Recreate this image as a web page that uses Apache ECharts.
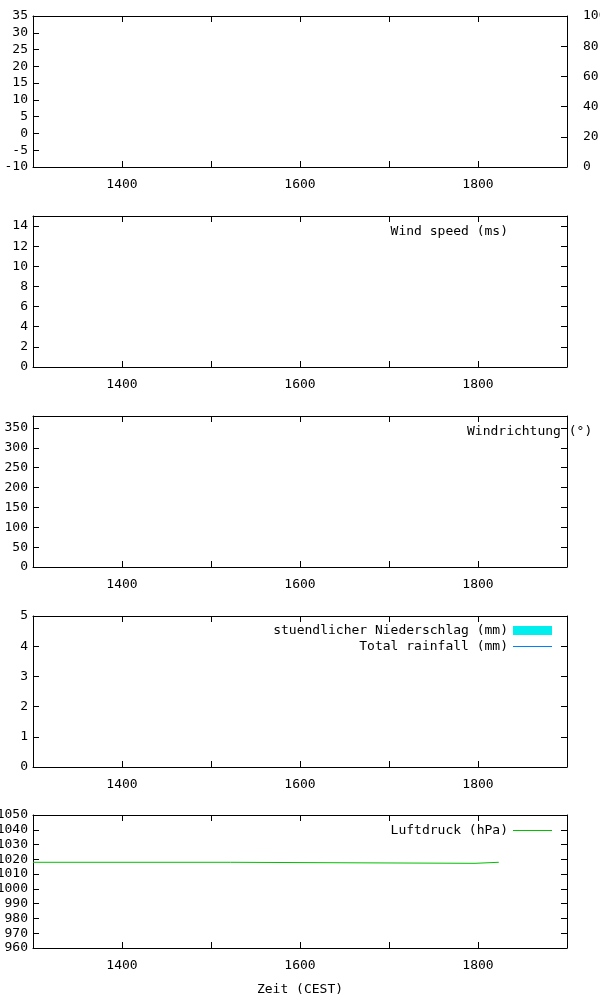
<!DOCTYPE html>
<html><head><meta charset="utf-8">
<script src="https://cdn.jsdelivr.net/npm/echarts@6/dist/echarts.min.js"></script>
<style>html,body{margin:0;padding:0;background:#fff}#c{width:600px;height:1000px}</style>
</head><body><div id="c"></div>
<script>
// ---- data ----
const xTickLabels = ['1400', '1600', '1800'];
const timeRange = [13, 19];            // hours (13:00 .. 19:00)
const pressureTimes = ['13:00', '15:13', '15:14', '17:58', '17:59', '18:14'];
const pressureValues = [1018.0, 1018.0, 1017.3, 1017.3, 1018.0, 1018.0];
const windSpeedValues = [];
const windDirValues = [];
const rainHourlyValues = [];
const rainTotalValues = [];
const yRanges = [[-10, 35, 5], [0, 15, 2], [0, 380, 50], [0, 5, 1], [960, 1050, 10]];
const y2Range = [0, 100, 20];

// ---- layout ----
const tops = [16, 216, 416, 616, 815];
const heights = [151, 151, 151, 151, 133];
const FONT = 'DejaVu Sans Mono';
const FS = 13;

function toHours(s) { const p = s.split(':'); return (+p[0]) + (+p[1]) / 60; }

const grids = tops.map((t, i) => ({ left: 33, width: 534, top: t, height: heights[i], containLabel: false, outerBoundsMode: 'none' }));
const axisLine = { show: true, onZero: false, lineStyle: { color: '#000', width: 1 } };
const axisTick = { show: true, inside: true, length: 6, lineStyle: { color: '#000', width: 1 } };
const labelStyle = { color: '#000', fontFamily: FONT, fontSize: FS };

const xAxes = [];
const yAxes = [];
for (let i = 0; i < 5; i++) {
  const bottom = {
    type: 'value', gridIndex: i, position: 'bottom', min: timeRange[0], max: timeRange[1], interval: 1,
    axisLine, axisTick, splitLine: { show: false },
    axisLabel: Object.assign({ margin: 11, formatter: v => { const s = String(Math.round(v * 100)); return xTickLabels.indexOf(s) >= 0 ? s : ''; } }, labelStyle)
  };
  if (i === 4) {
    bottom.name = 'Zeit (CEST)';
    bottom.nameLocation = 'middle';
    bottom.nameGap = 35;
    bottom.nameTextStyle = labelStyle;
  }
  xAxes.push(bottom);
  xAxes.push({
    type: 'value', gridIndex: i, position: 'top', min: timeRange[0], max: timeRange[1], interval: 1,
    axisLine, axisTick, splitLine: { show: false }, axisLabel: { show: false }
  });
  const r = yRanges[i];
  yAxes.push({
    type: 'value', gridIndex: i, position: 'left', min: r[0], max: r[1], interval: r[2],
    axisLine, axisTick, splitLine: { show: false },
    axisLabel: Object.assign({ margin: 5, formatter: v => ((v - r[0]) % r[2] === 0 ? String(v) : '') }, labelStyle)
  });
  if (i === 0) {
    yAxes.push({
      type: 'value', gridIndex: i, position: 'right', min: y2Range[0], max: y2Range[1], interval: y2Range[2],
      axisLine, axisTick, splitLine: { show: false },
      axisLabel: Object.assign({ margin: 16, align: 'left' }, labelStyle)
    });
  } else {
    yAxes.push({
      type: 'value', gridIndex: i, position: 'right', min: r[0], max: r[1], interval: r[2],
      axisLine, axisTick, splitLine: { show: false }, axisLabel: { show: false }
    });
  }
}

const legendText = { color: '#000', fontFamily: FONT, fontSize: FS };
function legendFor(name, opts) {
  return Object.assign({
    data: [{ name: name, icon: 'rect' }], orient: 'vertical', align: 'right', padding: 0,
    itemWidth: 39, itemHeight: 1, selectedMode: false, textStyle: legendText
  }, opts);
}

const option = {
  animation: false,
  backgroundColor: '#fff',
  grid: grids,
  xAxis: xAxes,
  yAxis: yAxes,
  legend: [
    legendFor('Wind speed (ms)', { right: 48, top: 225, itemStyle: { color: 'rgba(0,0,0,0)', borderWidth: 0 } }),
    legendFor('Windrichtung (°)', { left: 467, top: 425, itemWidth: 0, itemStyle: { color: 'rgba(0,0,0,0)', borderWidth: 0 } }),
    legendFor('stuendlicher Niederschlag (mm)', { right: 48, top: 624, itemHeight: 9 }),
    legendFor('Total rainfall (mm)', { right: 48, top: 640 }),
    legendFor('Luftdruck (hPa)', { right: 48, top: 824 })
  ],
  series: [
    { type: 'line', name: 'Wind speed (ms)', xAxisIndex: 2, yAxisIndex: 2, data: windSpeedValues, symbol: 'none', itemStyle: { color: '#ff0000' } },
    { type: 'scatter', name: 'Windrichtung (°)', xAxisIndex: 4, yAxisIndex: 4, data: windDirValues, itemStyle: { color: '#ff0000' } },
    { type: 'bar', name: 'stuendlicher Niederschlag (mm)', xAxisIndex: 6, yAxisIndex: 6, data: rainHourlyValues, itemStyle: { color: '#00eeee' } },
    { type: 'line', name: 'Total rainfall (mm)', xAxisIndex: 6, yAxisIndex: 6, data: rainTotalValues, symbol: 'none', itemStyle: { color: '#0080ff' }, lineStyle: { color: '#0080ff', width: 1 } },
    { type: 'line', name: 'Luftdruck (hPa)', xAxisIndex: 8, yAxisIndex: 8, symbol: 'none',
      data: pressureTimes.map((t, k) => [toHours(t), pressureValues[k]]),
      itemStyle: { color: '#00c000' }, lineStyle: { color: '#00c000', width: 1 } }
  ]
};

const chart = echarts.init(document.getElementById('c'), null, { renderer: 'canvas' });
chart.setOption(option);
</script>
</body></html>
